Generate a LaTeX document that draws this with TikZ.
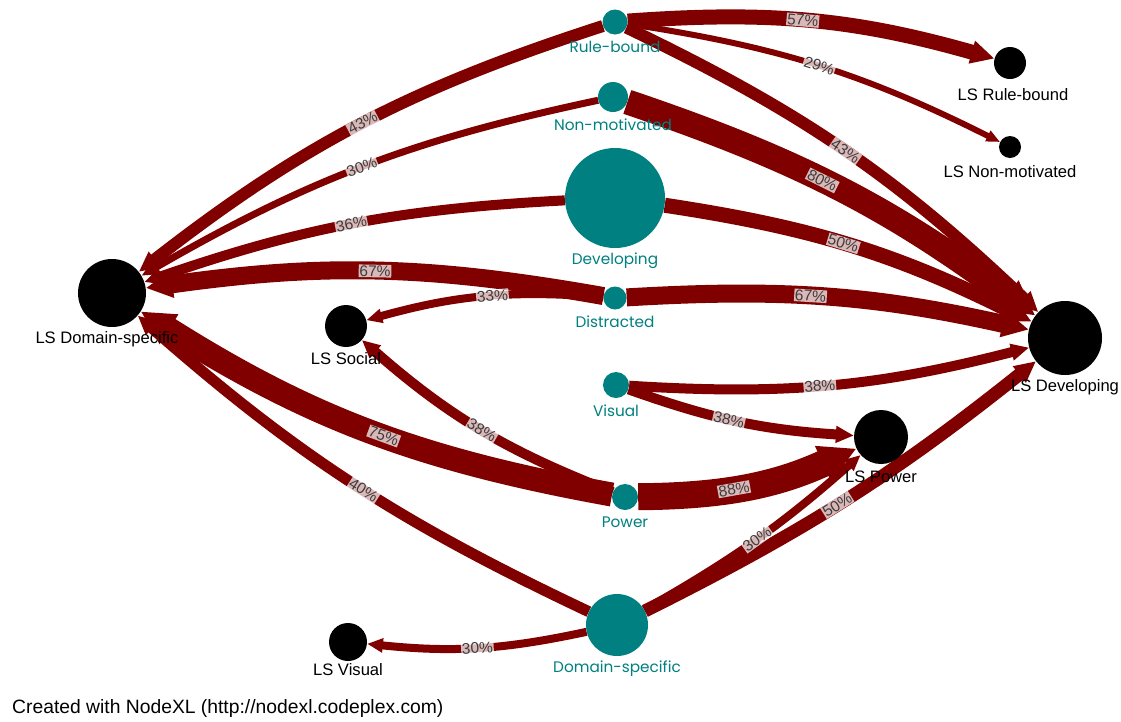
\documentclass[tikz,border=0pt]{standalone}
\usepackage{fontspec}
\setmainfont{Liberation Sans}
\newfontfamily\groupfont{Poppins}
\usetikzlibrary{arrows.meta}
\definecolor{nxteal}{RGB}{0,128,128}
\definecolor{nxflow}{RGB}{128,0,0}
\definecolor{nxtext}{RGB}{60,60,60}
\pgfdeclarelayer{paper}
\pgfdeclarelayer{edges}
\pgfdeclarelayer{tags}
\pgfsetlayers{paper,edges,tags,main}
\tikzset{
  grp/.style={circle, fill=nxteal, inner sep=0pt, minimum size=#1},
  lsnode/.style={circle, fill=black, inner sep=0pt, minimum size=#1},
  grptext/.style={text=nxteal, font=\groupfont\fontsize{15.3}{17}\selectfont, inner sep=1pt, label distance=5pt},
  lstext/.style={text=black, font=\fontsize{16.6}{18}\selectfont, inner sep=1pt, label distance=5pt},
  flowline/.style={draw=nxflow, -{Triangle[length=7pt 1.1, width=4pt 1.2]}},
  pct/.style={sloped, font=\fontsize{15.5}{16}\selectfont, text=nxtext, fill=white,
    fill opacity=0.72, text opacity=1, inner sep=0.8pt},
}
% \flow{source}{target}{bend}{percentage}{label position}{line width}
\newcommand\flow[6]{%
  \begin{pgfonlayer}{edges}
    \draw[flowline, line width=#6pt] (#1) to[#3] (#2);
  \end{pgfonlayer}
  \begin{pgfonlayer}{tags}
    \path (#1) to[#3] node[pct, pos=#5] {#4\%} (#2);
  \end{pgfonlayer}}
\begin{document}
\begin{tikzpicture}[x=1pt, y=-1pt]
  \begin{pgfonlayer}{paper}
    \fill[white] (0,0) rectangle (1121,721);
  \end{pgfonlayer}
  \path[use as bounding box] (0,0) rectangle (1121,721);

  % learner groups
  \node[grp=25pt, label={[grptext]below:Rule-bound}] (rb) at (615,22) {};
  \node[grp=30pt, label={[grptext]below:Non-motivated}] (nm) at (613,97) {};
  \node[grp=100pt, label={[grptext, label distance=3pt]below:Developing}] (dv) at (615,198) {};
  \node[grp=23pt, label={[grptext]below:Distracted}] (di) at (615,298) {};
  \node[grp=26pt, label={[grptext]below:Visual}] (vi) at (616,385) {};
  \node[grp=26pt, label={[grptext]below:Power}] (po) at (625,497) {};
  \node[grp=62pt, label={[grptext, label distance=3pt]below:Domain-specific}] (ds) at (617,625) {};

  % learning styles
  \node[lsnode=32pt, label={[lstext, xshift=3pt, label distance=8pt]below:LS Rule-bound}] (lsrb) at (1010,63) {};
  \node[lsnode=22pt, label={[lstext, label distance=6pt]below:LS Non-motivated}] (lsnm) at (1010,147) {};
  \node[lsnode=68pt, label={[lstext, xshift=-5pt, label distance=3pt]below:LS Domain-specific}] (lsds) at (112,293) {};
  \node[lsnode=42pt, label={[lstext, label distance=4pt]below:LS Social}] (lsso) at (346,326) {};
  \node[lsnode=74pt, label={[lstext, label distance=3pt]below:LS Developing}] (lsdv) at (1065,338) {};
  \node[lsnode=54pt, label={[lstext, label distance=5pt]below:LS Power}] (lspo) at (881,437) {};
  \node[lsnode=38pt, label={[lstext, label distance=1pt]below:LS Visual}] (lsvi) at (348,642) {};

  % transitions between groups and learning styles
  \flow{rb}{lsds}{bend right=10}{43}{0.49}{12}
  \flow{rb}{lsrb}{bend left=10}{57}{0.47}{15}
  \flow{rb}{lsnm}{bend left=9}{29}{0.5}{6}
  \flow{rb}{lsdv}{bend left=9}{43}{0.5}{12}
  \flow{nm}{lsds}{bend right=9}{30}{0.5}{7}
  \flow{nm}{lsdv}{bend left=9}{80}{0.45}{25}
  \flow{dv}{lsds}{bend right=8}{36}{0.5}{10}
  \flow{dv}{lsdv}{bend left=9}{50}{0.47}{15}
  \flow{di}{lsds}{bend right=9}{67}{0.5}{18}
  \flow{di}{lsso}{bend right=10}{33}{0.46}{8}
  \flow{di}{lsdv}{bend left=8}{67}{0.45}{18}
  \flow{vi}{lsdv}{bend right=9}{38}{0.47}{10}
  \flow{vi}{lspo}{bend right=8}{38}{0.45}{10}
  \flow{po}{lsds}{bend left=11}{75}{0.46}{24}
  \flow{po}{lsso}{bend left=10}{38}{0.49}{10}
  \flow{po}{lspo}{bend right=12}{88}{0.42}{27}
  \flow{ds}{lsds}{bend left=8}{40}{0.47}{11}
  \flow{ds}{lspo}{bend right=6}{30}{0.5}{8}
  \flow{ds}{lsdv}{bend right=6}{50}{0.47}{13}
  \flow{ds}{lsvi}{bend left=9}{30}{0.5}{8}

  \node[anchor=base west, font=\fontsize{19.3}{21}\selectfont, inner sep=0pt] (credit) at (12,713)
    {Created with NodeXL (http://nodexl.codeplex.com)};
\end{tikzpicture}
\end{document}
